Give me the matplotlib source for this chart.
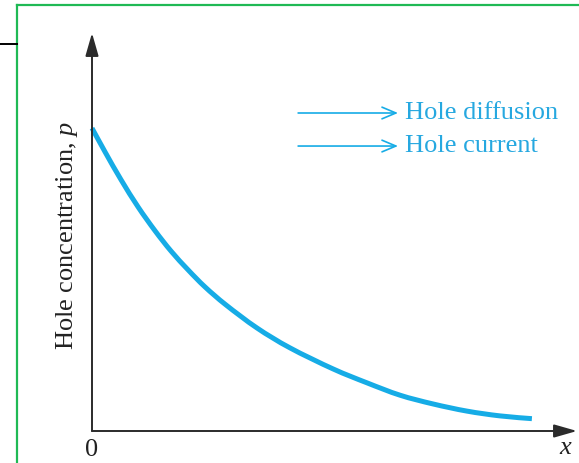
import numpy as np
import matplotlib
matplotlib.use("Agg")
import matplotlib.pyplot as plt
from matplotlib.lines import Line2D
from matplotlib.path import Path
from matplotlib.patches import PathPatch

plt.rcParams["mathtext.fontset"] = "custom"
plt.rcParams["mathtext.it"] = "Liberation Serif:italic"
plt.rcParams["mathtext.rm"] = "Liberation Serif"

# hole concentration (arbitrary units)
x_pos = [0.0, 0.27, 0.60, 0.95, 1.30, 1.63, 1.98, 2.33, 2.76, 3.40,
         4.08, 4.97, 5.67, 6.35, 7.03, 7.73, 8.41, 9.07]
p_hole = [0.761, 0.701, 0.631, 0.563, 0.503, 0.452, 0.405, 0.362, 0.317, 0.259,
          0.209, 0.156, 0.121, 0.090, 0.068, 0.050, 0.038, 0.031]

flow_labels = ["Hole diffusion", "Hole current"]
flow_y = [0.799, 0.716]

cyan = "#16ace6"
txt_cyan = "#26a8e0"
serif = ["Liberation Serif", "DejaVu Serif"]

W, H = 579, 463
fig = plt.figure(figsize=(W / 100, H / 100), dpi=100)

# frame pieces around the figure
fig.add_artist(Line2D([17 / W, 17 / W], [0, 1 - 5 / H], color="#1fb955", lw=1.6))
fig.add_artist(Line2D([17 / W, 1], [1 - 5 / H, 1 - 5 / H], color="#1fb955", lw=1.6))
fig.add_artist(Line2D([0, 17 / W], [1 - 44 / H, 1 - 44 / H], color="black", lw=1.4))

ax = fig.add_axes([92 / W, 32 / H, (577 - 92) / W, (431 - 33) / H])
ax.set_xlim(0, 10)
ax.set_ylim(0, 1)
ax.axis("off")

# axes with arrow heads
arr = dict(arrowstyle="-|>,head_length=1.4,head_width=0.4", color="#2b2b2b",
           lw=1.4, shrinkA=0, shrinkB=0)
ax.annotate("", xy=(10, 0), xytext=(0, 0), arrowprops=arr, annotation_clip=False)
ax.annotate("", xy=(0, 1), xytext=(0, 0), arrowprops=arr, annotation_clip=False)

# smooth curve through the read points (catmull-rom as cubic bezier)
pts = np.column_stack([x_pos, p_hole])
ext = np.vstack([pts[0], pts, pts[-1]])
verts = [pts[0]]
codes = [Path.MOVETO]
for i in range(1, len(ext) - 2):
    c1 = ext[i] + (ext[i + 1] - ext[i - 1]) / 6
    c2 = ext[i + 1] - (ext[i + 2] - ext[i]) / 6
    verts += [c1, c2, ext[i + 1]]
    codes += [Path.CURVE4] * 3
curve = PathPatch(Path(verts, codes), facecolor="none", edgecolor=cyan,
                  lw=3.6, capstyle="butt", clip_on=False)
ax.add_patch(curve)

for lab, yy in zip(flow_labels, flow_y):
    ax.annotate("", xy=(6.31, yy), xytext=(4.25, yy),
                arrowprops=dict(arrowstyle="->,head_length=1.0,head_width=0.42",
                                color=cyan, lw=1.2, shrinkA=0, shrinkB=0))
    ax.text(6.45, yy, lab, color=txt_cyan, fontsize=19, family=serif,
            ha="left", va="center")

ax.text(0, -0.048, "0", fontsize=19, family=serif, ha="center", va="center",
        color="#222222")
ax.text(9.75, -0.042, "x", fontsize=19, family=serif, style="italic",
        ha="center", va="center", color="#222222")
fig.text(67 / W, 1 - 236 / H, "Hole concentration, $p$", rotation=90,
         fontsize=19, family=serif, ha="center", va="center", color="#222222")

fig.savefig("out.png", dpi=100)
